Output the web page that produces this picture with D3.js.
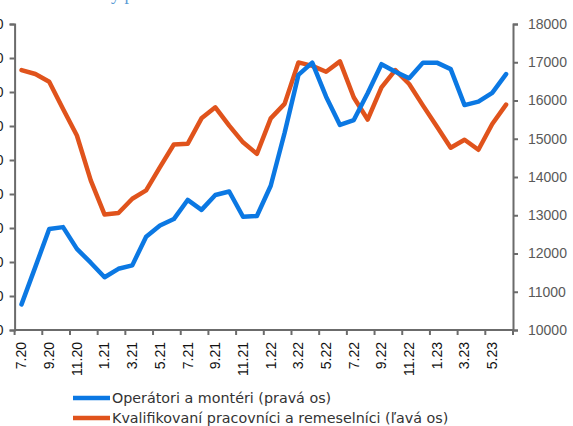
<!DOCTYPE html>
<html>
<head>
<meta charset="utf-8">
<script src="https://cdn.jsdelivr.net/npm/d3@7"></script>
<style>
  body { margin: 0; background: #fff; }
  svg { display: block; font-family: "DejaVu Sans", Verdana, sans-serif; }
</style>
</head>
<body>
<div id="chart"></div>
<script>
const months = ["7.20","8.20","9.20","10.20","11.20","12.20","1.21","2.21","3.21","4.21","5.21","6.21",
  "7.21","8.21","9.21","10.21","11.21","12.21","1.22","2.22","3.22","4.22","5.22","6.22",
  "7.22","8.22","9.22","10.22","11.22","12.22","1.23","2.23","3.23","4.23","5.23","6.23"];

// Operátori a montéri (pravá os)
const operatori = [10670,11650,12640,12690,12120,11760,11380,11600,11690,12440,12730,12900,
  13400,13140,13530,13620,12960,12980,13770,15150,16670,16990,16100,15360,
  15490,16190,16950,16750,16580,16990,16990,16820,15880,15970,16200,16690];

// Kvalifikovaní pracovníci a remeselníci (ľavá os)
const kvalifikovani = [15290,15060,14600,13000,11440,8800,6790,6880,7720,8210,9580,10910,
  10950,12450,13100,12020,11040,10360,12450,13300,15740,15540,15190,15800,
  13680,12380,14270,15290,14470,13200,11970,10720,11190,10600,12120,13260];

const rightTicks = [10000,11000,12000,13000,14000,15000,16000,17000,18000];
const leftTicks = [0,2000,4000,6000,8000,10000,12000,14000,16000,18000];

const blue = "#0b78e3", orange = "#e0531c";

const W = 573, H = 426;
const plotL = 14.6, plotR = 513, plotT = 24, plotB = 330;

const svg = d3.select("#chart").append("svg").attr("width", W).attr("height", H);
svg.append("rect").attr("width", W).attr("height", H).attr("fill", "#fff");

const x = d3.scaleBand().domain(months).range([plotL, plotR]).padding(0);
const cx = d => x(d) + x.bandwidth() / 2;
const yR = d3.scaleLinear().domain([10000, 18000]).range([plotB, plotT]);
const yL = d3.scaleLinear().domain([0, 18000]).range([plotB, plotT]);

// title, mostly above the visible area (only descenders show)
svg.append("text")
  .attr("x", 65).attr("y", -0.5)
  .attr("fill", "#5b9bd5")
  .style("font-family", "'Liberation Serif', serif")
  .style("font-size", "18px")
  .text("Ponuky práce");

// left axis (labels mostly cut off by the frame)
const gL = svg.append("g").attr("transform", `translate(${plotL},0)`)
  .call(d3.axisLeft(yL).tickValues(leftTicks).tickSize(5).tickPadding(6).tickFormat(d3.format("d")));
gL.selectAll("text").attr("fill", "#222").style("font-size", "14px");

// right axis
const gR = svg.append("g").attr("transform", `translate(${plotR},0)`)
  .call(d3.axisRight(yR).tickValues(rightTicks).tickSize(5).tickPadding(10).tickFormat(d3.format("d")));
gR.selectAll("text").attr("fill", "#595959").style("font-size", "14px");

// x axis
const gX = svg.append("g").attr("transform", `translate(0,${plotB})`)
  .call(d3.axisBottom(x).tickSize(0).tickFormat((d, i) => i % 2 === 0 ? d : ""));
gX.select(".domain").attr("d", `M${plotL},0H${plotR}`);
gX.selectAll(".tick text")
  .attr("transform", "rotate(-90)")
  .attr("text-anchor", "end")
  .attr("dy", "0.35em")
  .attr("x", -12).attr("y", 0)
  .attr("fill", "#111")
  .style("font-size", "14px");
// tick marks on category boundaries, every 2 months
gX.selectAll(".bound")
  .data(months.filter((d, i) => i % 2 === 0).map(d => x(d)).concat([plotR]))
  .enter().append("line")
  .attr("class", "bound")
  .attr("x1", d => d).attr("x2", d => d)
  .attr("y1", 0).attr("y2", 5);

svg.selectAll(".domain, .tick line, .bound").attr("stroke", "#6b6b6b").attr("stroke-width", 2);

// lines
const lineR = d3.line().x((d, i) => cx(months[i])).y(d => yR(d));
const lineL = d3.line().x((d, i) => cx(months[i])).y(d => yL(d));

svg.append("path").datum(kvalifikovani)
  .attr("d", lineL).attr("fill", "none").attr("stroke", orange)
  .attr("stroke-width", 4.5).attr("stroke-linejoin", "round").attr("stroke-linecap", "round");

svg.append("path").datum(operatori)
  .attr("d", lineR).attr("fill", "none").attr("stroke", blue)
  .attr("stroke-width", 4.5).attr("stroke-linejoin", "round").attr("stroke-linecap", "round");

// legend
const legend = [
  { name: "Operátori a montéri (pravá os)", color: blue },
  { name: "Kvalifikovaní pracovníci a remeselníci (ľavá os)", color: orange }
];
const lg = svg.selectAll(".leg").data(legend).enter().append("g")
  .attr("transform", (d, i) => `translate(73,${398 + i * 20})`);
lg.append("line").attr("x1", 0).attr("x2", 37).attr("y1", 0).attr("y2", 0)
  .attr("stroke", d => d.color).attr("stroke-width", 4.5);
lg.append("text").attr("x", 39).attr("dy", "0.35em")
  .attr("fill", "#333").style("font-size", "14.3px")
  .text(d => d.name);
</script>
</body>
</html>
